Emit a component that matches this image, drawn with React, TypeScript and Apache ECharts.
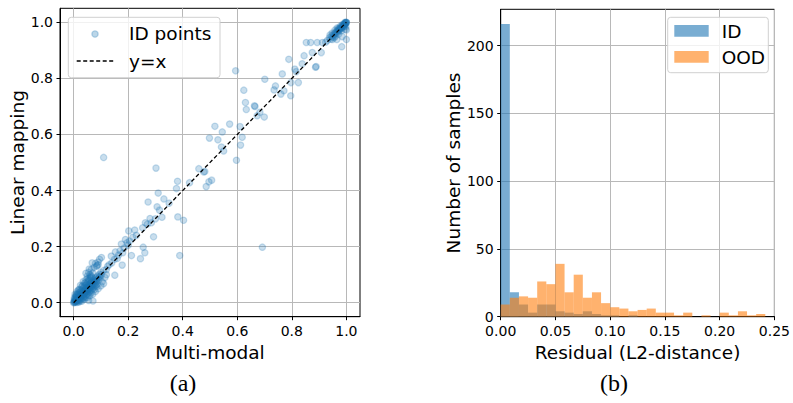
import React, { useEffect, useRef } from "react";
import * as echarts from "echarts";

// ---------- data ----------
const scatterTicks = [0, 0.2, 0.4, 0.6, 0.8, 1.0];
const histXTicks = [0, 0.05, 0.1, 0.15, 0.2, 0.25];
const histYTicks = [0, 50, 100, 150, 200];

const diagLine = [
  [0, 0],
  [1, 1],
];

const lowCluster = [
  [0.000,0.000],[0.001,0.003],[0.003,0.001],[0.004,0.006],[0.005,0.002],[0.006,0.009],[0.007,0.005],[0.008,0.004],[0.009,0.012],[0.010,0.008],
  [0.011,0.006],[0.012,0.015],[0.013,0.011],[0.014,0.009],[0.015,0.019],[0.016,0.013],[0.017,0.021],[0.018,0.016],[0.019,0.012],[0.020,0.024],
  [0.021,0.019],[0.022,0.015],[0.023,0.027],[0.024,0.022],[0.025,0.018],[0.026,0.031],[0.027,0.025],[0.028,0.021],[0.029,0.034],[0.030,0.028],
  [0.031,0.024],[0.032,0.037],[0.033,0.031],[0.034,0.026],[0.035,0.040],[0.036,0.034],[0.037,0.029],[0.038,0.043],[0.039,0.037],[0.040,0.032],
  [0.041,0.046],[0.042,0.040],[0.043,0.035],[0.044,0.050],[0.045,0.043],[0.046,0.038],[0.047,0.053],[0.048,0.046],[0.049,0.041],[0.050,0.056],
  [0.051,0.049],[0.052,0.044],[0.053,0.060],[0.054,0.052],[0.055,0.047],[0.056,0.063],[0.057,0.055],[0.058,0.050],[0.059,0.066],[0.060,0.058],
  [0.061,0.053],[0.062,0.070],[0.063,0.061],[0.064,0.056],[0.066,0.073],[0.067,0.065],[0.068,0.059],[0.070,0.077],[0.071,0.069],[0.072,0.063],
  [0.074,0.081],[0.075,0.073],[0.076,0.067],[0.078,0.085],[0.079,0.077],[0.081,0.072],[0.083,0.090],[0.084,0.082],[0.086,0.077],[0.088,0.095],
  [0.090,0.088],[0.092,0.083],[0.094,0.101],[0.096,0.094],[0.098,0.089],[0.100,0.108],[0.102,0.100],
  [0.002,0.010],[0.006,0.016],[0.010,0.020],[0.014,0.026],[0.018,0.030],[0.022,0.036],[0.026,0.040],[0.030,0.045],[0.034,0.050],[0.038,0.056],
  [0.042,0.061],[0.046,0.066],[0.050,0.071],[0.054,0.078],[0.058,0.083],[0.062,0.088],[0.066,0.092],[0.011,0.001],[0.016,0.004],[0.021,0.008],
  [0.027,0.012],[0.032,0.016],[0.037,0.020],[0.042,0.024],[0.047,0.028],[0.052,0.033],[0.057,0.038],[0.062,0.042],[0.067,0.047],[0.072,0.052],
  [0.077,0.058],[0.082,0.062],[0.003,0.018],[0.009,0.027],[0.015,0.035],[0.024,0.046],[0.033,0.060],[0.044,0.072],[0.052,0.086],[0.060,0.092],
  [0.019,0.002],[0.025,0.006],[0.036,0.014],[0.045,0.019],[0.056,0.026],[0.065,0.036],[0.076,0.046],[0.086,0.066],
];

const lowSpread = [
  [0.005,0.030],[0.012,0.040],[0.008,0.022],[0.020,0.048],[0.030,0.058],[0.025,0.062],[0.040,0.070],[0.035,0.075],[0.045,0.082],[0.050,0.095],
  [0.060,0.100],[0.055,0.108],[0.065,0.118],[0.070,0.106],[0.075,0.126],[0.080,0.140],[0.068,0.142],[0.085,0.130],[0.090,0.145],[0.095,0.155],
  [0.030,0.005],[0.040,0.012],[0.050,0.018],[0.060,0.025],[0.070,0.030],[0.071,0.006],[0.055,0.008],[0.080,0.040],[0.090,0.050],[0.100,0.060],
  [0.085,0.058],[0.105,0.075],[0.110,0.068],[0.115,0.090],[0.120,0.100],[0.102,0.161],[0.086,0.133],[0.090,0.135],[0.064,0.095],[0.057,0.120],
  [0.045,0.105],[0.018,0.045],[0.013,0.030],
];

const midPoints = [
  [0.110,0.115],[0.120,0.118],[0.125,0.130],[0.130,0.135],[0.138,0.166],[0.140,0.142],[0.150,0.155],[0.153,0.181],[0.160,0.158],[0.165,0.170],
  [0.170,0.185],[0.175,0.209],[0.178,0.134],[0.151,0.098],[0.180,0.178],[0.185,0.195],[0.190,0.225],[0.196,0.214],[0.200,0.205],[0.202,0.256],
  [0.205,0.220],[0.212,0.168],[0.217,0.233],[0.224,0.259],[0.230,0.240],[0.245,0.157],[0.253,0.267],[0.255,0.198],[0.261,0.178],[0.263,0.285],
  [0.270,0.280],[0.273,0.359],[0.280,0.300],[0.285,0.285],[0.293,0.235],[0.300,0.299],[0.302,0.480],[0.306,0.342],[0.310,0.391],[0.315,0.330],
  [0.324,0.305],[0.331,0.370],[0.350,0.355],[0.377,0.407],[0.381,0.433],[0.382,0.306],[0.389,0.168],[0.403,0.294],[0.425,0.428],[0.459,0.478],
  [0.477,0.466],[0.481,0.468],[0.486,0.414],[0.496,0.431],[0.498,0.587],[0.506,0.437],[0.518,0.629],[0.529,0.581],[0.542,0.555],[0.545,0.609],
  [0.550,0.541],[0.572,0.637],[0.594,0.827],[0.597,0.508],[0.610,0.628],[0.612,0.562],[0.618,0.590],[0.624,0.758],[0.630,0.714],[0.633,0.689],
  [0.663,0.702],[0.665,0.700],[0.673,0.667],[0.683,0.679],[0.692,0.198],[0.699,0.662],[0.701,0.797],[0.735,0.759],[0.740,0.773],[0.760,0.744],
  [0.765,0.816],[0.771,0.756],[0.789,0.868],[0.796,0.738],[0.797,0.785],[0.811,0.833],[0.816,0.824],[0.824,0.785],[0.838,0.852],[0.845,0.881],
  [0.853,0.928],[0.869,0.928],[0.875,0.892],[0.887,0.840],[0.889,0.842],[0.893,0.928],[0.908,0.892],[0.912,0.928],[0.924,0.929],[0.949,0.939],
  [0.965,0.939],[0.983,0.913],[1.000,0.939],[0.985,0.949],[0.110,0.518],
];

const highCluster = [
  [0.930,0.935],[0.938,0.945],[0.942,0.940],[0.946,0.952],[0.950,0.948],[0.953,0.958],[0.956,0.955],[0.959,0.963],[0.962,0.960],[0.964,0.968],
  [0.967,0.965],[0.969,0.972],[0.971,0.969],[0.973,0.976],[0.975,0.973],[0.977,0.979],[0.979,0.977],[0.981,0.983],[0.983,0.980],[0.985,0.987],
  [0.987,0.984],[0.988,0.990],[0.990,0.988],[0.991,0.993],[0.993,0.991],[0.994,0.996],[0.996,0.994],[0.997,0.998],[0.998,0.997],[0.999,1.000],
  [1.000,0.999],[1.000,1.000],[0.996,0.975],[0.998,0.985],[0.972,0.958],[0.960,0.950],[0.955,0.945],[0.982,0.970],[1.000,0.973],[0.940,0.955],
  [0.948,0.962],[0.958,0.972],[0.966,0.980],[0.985,0.992],[0.992,0.985],[0.978,0.986],[0.970,0.978],[0.995,1.000],
];

// histogram: 30 bins over [0, 0.25]
const binStart = 0;
const binEnd = 0.25;
const binCount = 30;
const idCounts = [216,18,9,3,9,9,4,3,2,4,2,1,1,0,1,0,0,0,0,0,0,0,0,0,0,0,0,0,0,0];
const oodCounts = [9,14,15,14,26,24,39,18,31,14,18,10,7,6,4,5,6,3,3,1,3,0,1,0,3,1,4,1,2,0];

const BLUE_SCATTER = "rgba(31,119,180,0.3)";
const BLUE_BAR = "rgba(31,119,180,0.6)";
const ORANGE_BAR = "rgba(255,127,14,0.6)";
const FONT = "DejaVu Sans";

function histData(counts: number[]) {
  const w = (binEnd - binStart) / binCount;
  return counts.map((c, i) => [binStart + i * w, binStart + (i + 1) * w, c]);
}

function histRender(color: string) {
  return (params: any, api: any) => {
    const c = api.value(2);
    if (!c) return null;
    const p0 = api.coord([api.value(0), 0]);
    const p1 = api.coord([api.value(1), c]);
    return {
      type: "rect",
      shape: { x: p0[0], y: p1[1], width: p1[0] - p0[0], height: p0[1] - p1[1] },
      style: { fill: color },
    };
  };
}

export default function App() {
  const ref = useRef<HTMLDivElement>(null);
  useEffect(() => {
    if (!ref.current) return;
    const chart = echarts.init(ref.current, null, { renderer: "svg" });
    const gridLine = { show: true, lineStyle: { color: "#b8b8b8", width: 1 } };
    const axisLine = { show: true, onZero: false, lineStyle: { color: "#000", width: 1 } };
    const tick = (vals: number[]) => ({
      show: true,
      length: 3.5,
      inside: false,
      customValues: vals,
      lineStyle: { color: "#000", width: 1 },
    });
    const label = (vals: number[], digits: number) => ({
      customValues: vals,
      formatter: (v: number) => v.toFixed(digits),
      fontSize: 14,
      fontFamily: FONT,
      color: "#000",
      margin: 7,
    });
    const nameStyle = { fontSize: 18.5, fontFamily: FONT, color: "#000" };
    const option: any = {
      animation: false,
      textStyle: { fontFamily: FONT },
      grid: [
        { left: 60, top: 8.3, width: 300, height: 308.4, show: true, borderColor: "#000", borderWidth: 1, backgroundColor: "transparent" },
        { left: 500.7, top: 9.3, width: 276, height: 307.4, show: true, borderColor: "#000", borderWidth: 1, backgroundColor: "transparent" },
      ],
      xAxis: [
        {
          type: "value", gridIndex: 0, min: -0.05, max: 1.05,
          axisLine, axisTick: tick(scatterTicks), axisLabel: label(scatterTicks, 1), splitLine: gridLine,
          name: "Multi-modal", nameLocation: "middle", nameGap: 23, nameTextStyle: nameStyle,
        },
        {
          type: "value", gridIndex: 1, min: 0, max: 0.25,
          axisLine, axisTick: tick(histXTicks), axisLabel: label(histXTicks, 2), splitLine: gridLine,
          name: "Residual (L2-distance)", nameLocation: "middle", nameGap: 23, nameTextStyle: nameStyle,
        },
      ],
      yAxis: [
        {
          type: "value", gridIndex: 0, min: -0.05, max: 1.05,
          axisLine, axisTick: tick(scatterTicks), axisLabel: label(scatterTicks, 1), splitLine: gridLine,
          name: "Linear mapping", nameLocation: "middle", nameRotate: 90, nameGap: 31, nameTextStyle: nameStyle,
        },
        {
          type: "value", gridIndex: 1, min: 0, max: 226.8,
          axisLine, axisTick: tick(histYTicks), axisLabel: label(histYTicks, 0), splitLine: gridLine,
          name: "Number of samples", nameLocation: "middle", nameRotate: 90, nameGap: 38, nameTextStyle: nameStyle,
        },
      ],
      series: [
        {
          type: "scatter", xAxisIndex: 0, yAxisIndex: 0, symbolSize: 6.4,
          itemStyle: { color: BLUE_SCATTER, borderColor: BLUE_SCATTER, borderWidth: 1.2 },
          data: [...lowCluster, ...lowSpread, ...midPoints, ...highCluster],
          z: 2,
        },
        {
          type: "line", xAxisIndex: 0, yAxisIndex: 0, data: diagLine, symbol: "none",
          lineStyle: { color: "#000", width: 1.3, type: [4, 2.5] }, z: 3,
        },
        {
          type: "custom", xAxisIndex: 1, yAxisIndex: 1, data: histData(idCounts),
          renderItem: histRender(BLUE_BAR), encode: { x: [0, 1], y: 2 }, z: 2,
        },
        {
          type: "custom", xAxisIndex: 1, yAxisIndex: 1, data: histData(oodCounts),
          renderItem: histRender(ORANGE_BAR), encode: { x: [0, 1], y: 2 }, z: 3,
        },
      ],
      graphic: [
        // left legend
        { type: "rect", z: 100, shape: { x: 68.3, y: 17.3, width: 151.7, height: 60.4, r: 3 }, style: { fill: "rgba(255,255,255,0.8)", stroke: "#d0d0d0", lineWidth: 1 } },
        { type: "circle", z: 101, shape: { cx: 95, cy: 34, r: 3.2 }, style: { fill: BLUE_SCATTER, stroke: BLUE_SCATTER, lineWidth: 1.2 } },
        { type: "text", z: 101, x: 129, y: 33, style: { text: "ID points", font: `18.5px ${FONT}`, fill: "#000", verticalAlign: "middle" } },
        { type: "line", z: 101, shape: { x1: 76.7, y1: 61, x2: 114, y2: 61 }, style: { stroke: "#000", lineWidth: 1.3, lineDash: [4, 2.5] } },
        { type: "text", z: 101, x: 129, y: 61, style: { text: "y=x", font: `18.5px ${FONT}`, fill: "#000", verticalAlign: "middle" } },
        // right legend
        { type: "rect", z: 100, shape: { x: 667.7, y: 17.3, width: 100.6, height: 55.4, r: 3 }, style: { fill: "rgba(255,255,255,0.8)", stroke: "#d0d0d0", lineWidth: 1 } },
        { type: "rect", z: 101, shape: { x: 674.3, y: 25, width: 34.4, height: 11.7 }, style: { fill: BLUE_BAR } },
        { type: "text", z: 101, x: 721.7, y: 31, style: { text: "ID", font: `18.5px ${FONT}`, fill: "#000", verticalAlign: "middle" } },
        { type: "rect", z: 101, shape: { x: 674.3, y: 51, width: 34.4, height: 11.7 }, style: { fill: ORANGE_BAR } },
        { type: "text", z: 101, x: 721.7, y: 57, style: { text: "OOD", font: `18.5px ${FONT}`, fill: "#000", verticalAlign: "middle" } },
        // captions
        { type: "text", z: 101, x: 183, y: 383, style: { text: "(a)", font: `24px "Liberation Serif"`, fill: "#000", align: "center", verticalAlign: "middle" } },
        { type: "text", z: 101, x: 614, y: 383, style: { text: "(b)", font: `24px "Liberation Serif"`, fill: "#000", align: "center", verticalAlign: "middle" } },
      ],
    };
    chart.setOption(option);
    return () => chart.dispose();
  }, []);
  return (
    <div
      ref={ref}
      style={{ position: "fixed", left: 0, top: 0, width: 793, height: 403, background: "#fff" }}
    />
  );
}
